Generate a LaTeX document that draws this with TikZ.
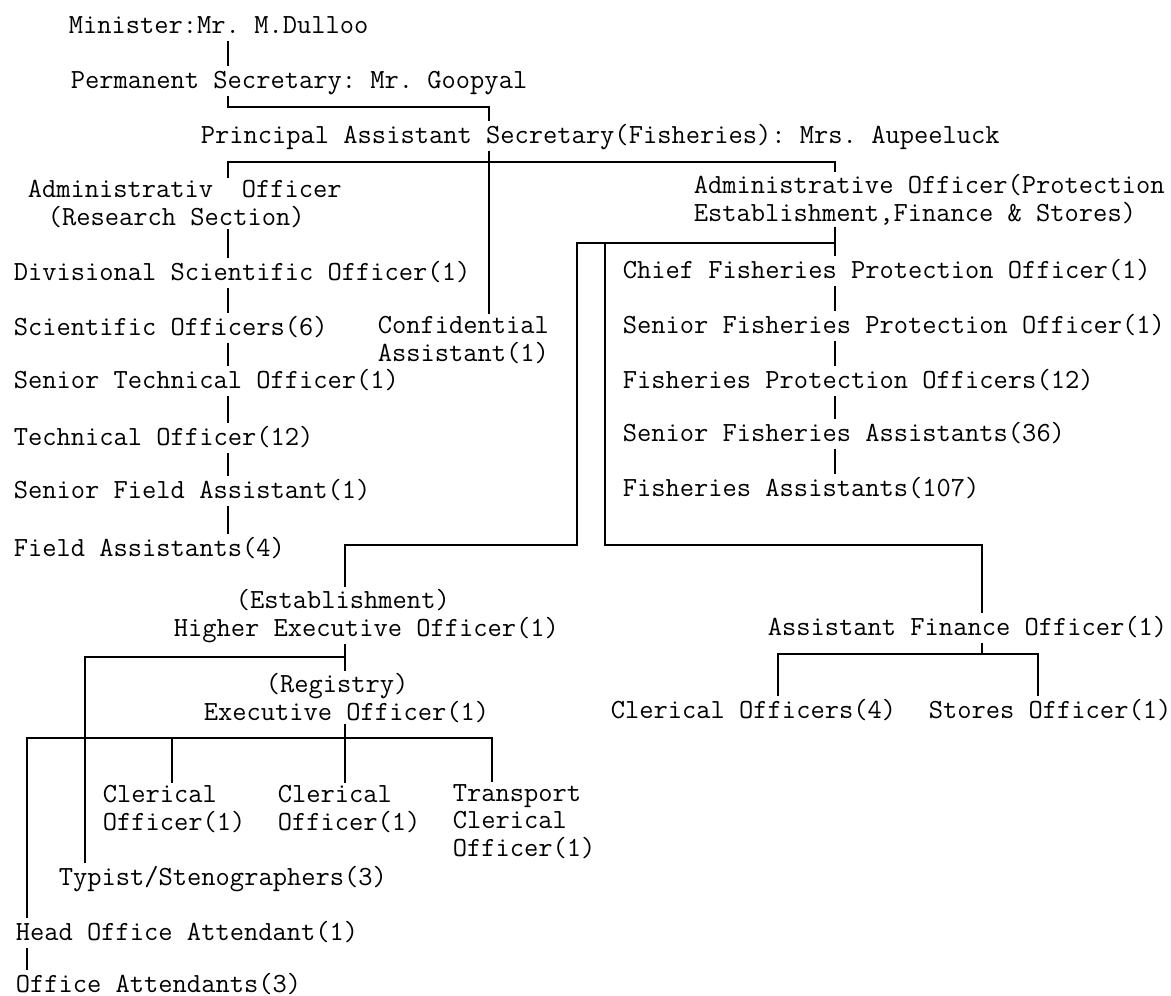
\documentclass[tikz,border=0pt]{standalone}
\usepackage{tikz}

\begin{document}
\begin{tikzpicture}[x=1pt,y=-1pt,line width=1.6pt]
\tikzstyle{every node}=[font=\fontsize{27.7}{27.5}\selectfont\ttfamily\frenchspacing,inner xsep=0pt,inner ysep=1pt]
\tikzstyle{post}=[anchor=base west,text height=20pt,text depth=6pt]
\tikzstyle{multi}=[anchor=base west,align=left]
\useasboundingbox (0,0) rectangle (1171,996);
% x positions of the vertical lines, y positions of the branches
\coordinate (xA) at (228,0);
\coordinate (xB) at (489,0);
\coordinate (xC) at (835,0);
\coordinate (xD) at (577,0);
\coordinate (xE) at (605,0);
\coordinate (xF) at (345,0);
\coordinate (xG) at (982,0);
\coordinate (xH) at (85,0);
\coordinate (xI) at (27,0);
\coordinate (xJ) at (172,0);
\coordinate (xK) at (492,0);
\coordinate (xL) at (778,0);
\coordinate (xM) at (1038,0);
\coordinate (yPS) at (0,107);
\coordinate (yPAS) at (0,162);
\coordinate (yAOP) at (0,243);
\coordinate (yLow) at (0,545);
\coordinate (yHEO) at (0,657);
\coordinate (yEO) at (0,738);
\coordinate (yAFO) at (0,654);

% top of the chart (multi-line nodes sit on their last line)
\node[post] (minister) at (68,33) {Minister:Mr. M.Dulloo};
\node[post] (permsec) at (70,88) {Permanent Secretary: Mr. Goopyal};
\node[post] (pas) at (200,143) {Principal Assistant Secretary(Fisheries): Mrs. Aupeeluck};
\node[multi] (aores) at (27,225) {Administrativ~~Officer\\\hspace*{20pt}(Research Section)};
\node[multi] (aoprot) at (693,221) {Administrative Officer(Protection\\Establishment,Finance \& Stores)};
\node[multi] (conf) at (377,361) {Confidential\\Assistant(1)};

% research section
\node[post] (dso) at (13,280) {Divisional Scientific Officer(1)};
\node[post] (sciof) at (13,335) {Scientific Officers(6)};
\node[post] (sto) at (13,388) {Senior Technical Officer(1)};
\node[post] (techof) at (13,445) {Technical Officer(12)};
\node[post] (sfa) at (13,498) {Senior Field Assistant(1)};
\node[post] (fa) at (13,556) {Field Assistants(4)};

% protection
\node[post] (cfpo) at (622,278) {Chief Fisheries Protection Officer(1)};
\node[post] (sfpo) at (622,333) {Senior Fisheries Protection Officer(1)};
\node[post] (fpo) at (622,388) {Fisheries Protection Officers(12)};
\node[post] (sfasst) at (622,441) {Senior Fisheries Assistants(36)};
\node[post] (fasst) at (622,496) {Fisheries Assistants(107)};

% establishment and finance
\node[multi] (heo) at (173,636) {\hspace*{62pt}(Establishment)\\Higher Executive Officer(1)};
\node[post] (afo) at (767,635) {Assistant Finance Officer(1)};
\node[post] (clerks) at (610,718) {Clerical Officers(4)};
\node[post] (stores) at (928,718) {Stores Officer(1)};
\node[multi] (eo) at (203,720) {\hspace*{62pt}(Registry)\\Executive Officer(1)};
\node[multi] (clerk1) at (102,830) {Clerical\\Officer(1)};
\node[multi] (clerk2) at (277,830) {Clerical\\Officer(1)};
\node[multi] (transport) at (452,856) {Transport\\Clerical\\Officer(1)};
\node[post] (typist) at (58,885) {Typist/Stenographers(3)};
\node[post] (hoa) at (15,940) {Head Office Attendant(1)};
\node[post] (oa) at (15,992) {Office Attendants(3)};

% connectors
\draw (minister.south -| xA) -- (permsec.north -| xA);
\draw (permsec.south -| xA) |- (xB |- yPS) -- (pas.north -| xB);
\draw (pas.south -| xB) -- (conf.north -| xB);
\draw (aores.north -| xA) |- (xC |- yPAS) -- (aoprot.north -| xC);
\foreach \a/\b in {aores/dso,dso/sciof,sciof/sto,sto/techof,techof/sfa,sfa/fa}
  \draw (\a.south -| xA) -- (\b.north -| xA);
\draw (aoprot.south -| xC) -- (cfpo.north -| xC);
\foreach \a/\b in {cfpo/sfpo,sfpo/fpo,fpo/sfasst,sfasst/fasst}
  \draw (\a.south -| xC) -- (\b.north -| xC);
\draw (aoprot.south -| xC) |- (xD |- yAOP) -- (xD |- yLow) -| (heo.north -| xF);
\draw (aoprot.south -| xC) |- (xE |- yAOP) -- (xE |- yLow) -| (afo.north -| xG);
\draw (heo.south -| xF) -- (eo.north -| xF);
\draw (heo.south -| xF) |- (xH |- yHEO) -- (typist.north -| xH);
\draw (eo.south -| xF) -- (clerk2.north -| xF);
\draw (eo.south -| xF) |- (xI |- yEO) -- (hoa.north -| xI);
\draw (eo.south -| xF) |- (xJ |- yEO) -- (clerk1.north -| xJ);
\draw (eo.south -| xF) |- (xK |- yEO) -- (transport.north -| xK);
\draw (hoa.south -| xI) -- (oa.north -| xI);
\draw (afo.south -| xG) |- (xL |- yAFO) -- (clerks.north -| xL);
\draw (afo.south -| xG) |- (xM |- yAFO) -- (stores.north -| xM);
\end{tikzpicture}
\end{document}
